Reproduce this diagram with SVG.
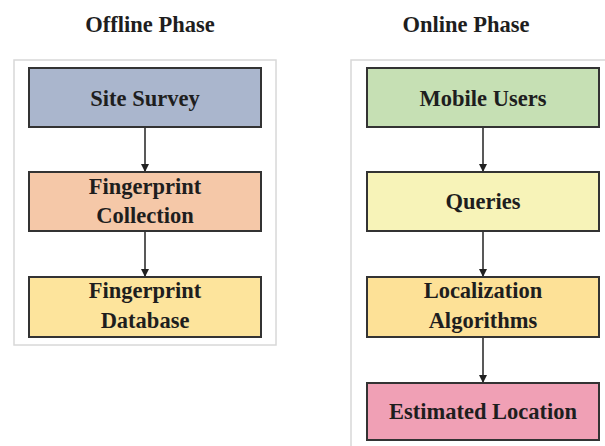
<svg xmlns="http://www.w3.org/2000/svg" width="605" height="446" viewBox="0 0 605 446">
<defs>
<style>
.t{font-family:'Liberation Serif','Times New Roman',Tinos,'DejaVu Serif',serif;font-weight:bold;font-size:22.5px;fill:#1e1e1e;text-anchor:middle}
.box{stroke:#333;stroke-width:2}
.cont{fill:#fff;stroke:#d8d8d8;stroke-width:1.5}
.con{stroke:#222;stroke-width:1.5;fill:none;marker-end:url(#ah)}
</style>
<marker id="ah" markerWidth="8" markerHeight="8" refX="7" refY="4" orient="auto" markerUnits="userSpaceOnUse">
<path d="M0,0 L8,4 L0,8 Z" fill="#222"/>
</marker>
</defs>
<rect width="605" height="446" fill="#fff"/>
<g id="offline-phase">
<text class="t" x="150" y="32" font-family="Liberation Serif, serif">Offline Phase</text>
<rect class="cont" x="14" y="60" width="262" height="285"/>
</g>
<g id="online-phase">
<text class="t" x="466" y="32">Online Phase</text>
<rect class="cont" x="351" y="60" width="270" height="400"/>
</g>
<g id="connectors">
<line class="con" x1="145" y1="127" x2="145" y2="171"/>
<line class="con" x1="145" y1="231" x2="145" y2="276"/>
<line class="con" x1="483" y1="127" x2="483" y2="171"/>
<line class="con" x1="483" y1="231" x2="483" y2="276"/>
<line class="con" x1="483" y1="337" x2="483" y2="382"/>
</g>
<g id="site-survey">
<rect class="box" x="29" y="68" width="232" height="59" fill="#aab6cd"/>
<text class="t" x="145" y="106">Site Survey</text>
</g>
<g id="fingerprint-collection">
<rect class="box" x="29" y="172" width="232" height="59" fill="#f5c8a8"/>
<text class="t" x="145" y="194">Fingerprint</text>
<text class="t" x="145" y="223">Collection</text>
</g>
<g id="fingerprint-database">
<rect class="box" x="29" y="277" width="232" height="60" fill="#fde49c"/>
<text class="t" x="145" y="298">Fingerprint</text>
<text class="t" x="145" y="328">Database</text>
</g>
<g id="mobile-users">
<rect class="box" x="367" y="68" width="232" height="59" fill="#c6e0b4"/>
<text class="t" x="483" y="106">Mobile Users</text>
</g>
<g id="queries">
<rect class="box" x="367" y="172" width="232" height="59" fill="#f7f3b8"/>
<text class="t" x="483" y="209">Queries</text>
</g>
<g id="localization-algorithms">
<rect class="box" x="367" y="277" width="232" height="60" fill="#fde197"/>
<text class="t" x="483" y="298">Localization</text>
<text class="t" x="483" y="328">Algorithms</text>
</g>
<g id="estimated-location">
<rect class="box" x="367" y="383" width="232" height="57" fill="#f0a0b5"/>
<text class="t" x="483" y="419">Estimated Location</text>
</g>
</svg>
